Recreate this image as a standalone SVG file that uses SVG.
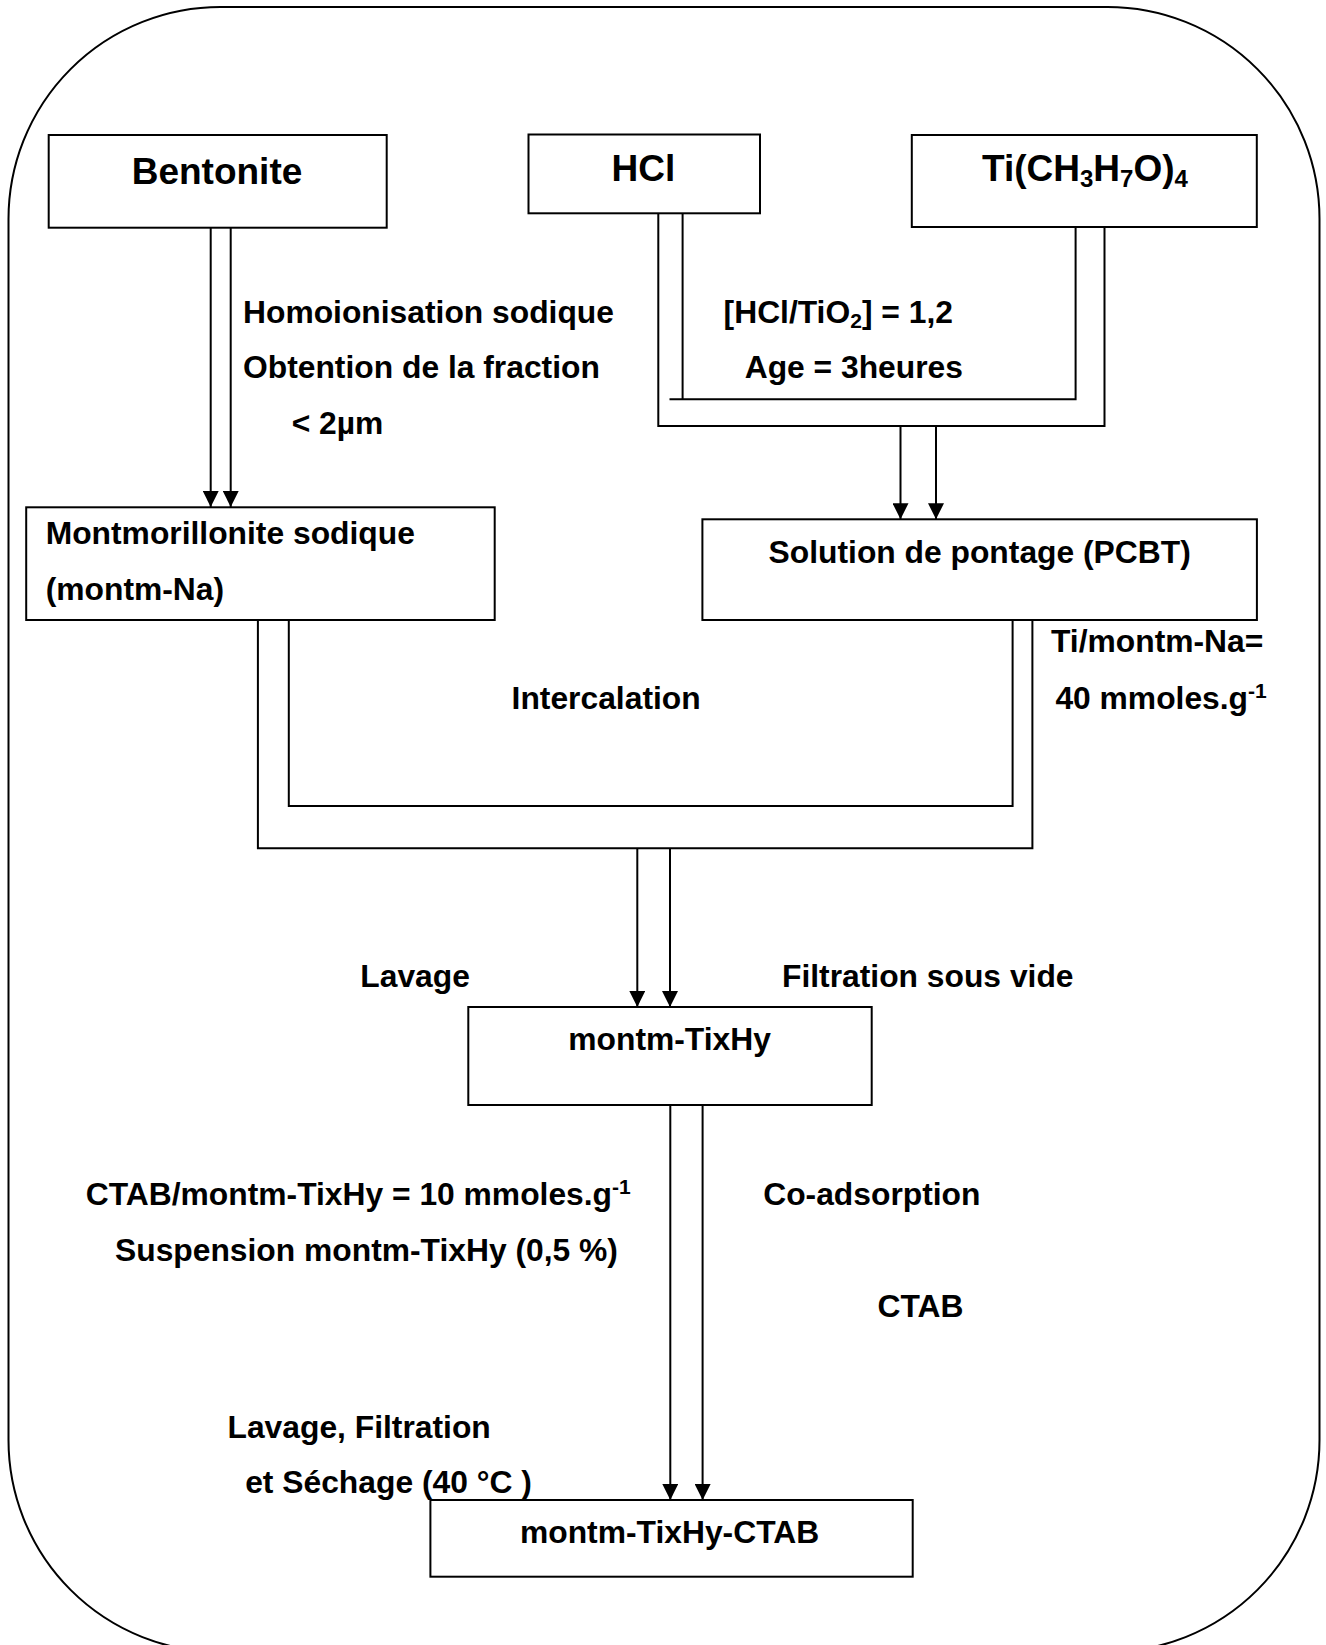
<svg xmlns="http://www.w3.org/2000/svg" width="1326" height="1645" viewBox="0 0 1326 1645">
<style>
  .box { fill: #fff; stroke: #000; stroke-width: 2; }
  .ln { fill: none; stroke: #000; stroke-width: 2; }
  .t { font-family: "Liberation Sans", Arial, sans-serif; font-weight: bold; font-size: 31.8px; fill: #000; }
  .big { font-size: 37px; }
  .sm { font-size: 21px; }
  .sub { font-size: 24px; }
</style>
<defs>
  <marker id="arr" viewBox="0 0 16 16" refX="16" refY="8" markerWidth="16" markerHeight="16" markerUnits="userSpaceOnUse" orient="auto">
    <path d="M0,0 L16,8 L0,16 z" fill="#000"/>
  </marker>
</defs>
<rect x="0" y="0" width="1326" height="1645" fill="#fff"/>
<rect id="frame" x="8.5" y="7" width="1311" height="1645" rx="212" ry="212" fill="none" stroke="#000" stroke-width="2"/>

<g id="connectors">
  <!-- Bentonite to Montmorillonite -->
  <line class="ln" x1="210.7" y1="227.7" x2="210.7" y2="507" marker-end="url(#arr)"/>
  <line class="ln" x1="230.7" y1="227.7" x2="230.7" y2="507" marker-end="url(#arr)"/>
  <!-- HCl + Ti to PCBT -->
  <polyline class="ln" points="682.6,213 682.6,399.3"/>
  <polyline class="ln" points="669.5,399.3 1075.6,399.3 1075.6,227"/>
  <polyline class="ln" points="658.3,213 658.3,426 1104.5,426 1104.5,227"/>
  <line class="ln" x1="900.5" y1="426" x2="900.5" y2="519.3" marker-end="url(#arr)"/>
  <line class="ln" x1="936" y1="426" x2="936" y2="519.3" marker-end="url(#arr)"/>
  <!-- Intercalation -->
  <polyline class="ln" points="288.8,620 288.8,806 1012.6,806 1012.6,620"/>
  <polyline class="ln" points="257.9,620 257.9,848.3 1032.4,848.3 1032.4,620"/>
  <line class="ln" x1="637.3" y1="848.3" x2="637.3" y2="1007" marker-end="url(#arr)"/>
  <line class="ln" x1="670" y1="848.3" x2="670" y2="1007" marker-end="url(#arr)"/>
  <!-- montm-TixHy to CTAB -->
  <line class="ln" x1="670.3" y1="1105" x2="670.3" y2="1500" marker-end="url(#arr)"/>
  <line class="ln" x1="702.6" y1="1079" x2="702.6" y2="1500" marker-end="url(#arr)"/>
</g>

<g id="bentonite">
  <rect class="box" x="48.7" y="135" width="338" height="92.7"/>
  <text class="t big" x="131.7" y="184.3">Bentonite</text>
</g>
<g id="hcl">
  <rect class="box" x="528.5" y="134.5" width="231.5" height="78.8"/>
  <text class="t big" x="611.6" y="181">HCl</text>
</g>
<g id="ti">
  <rect class="box" x="911.8" y="135" width="345" height="92"/>
  <text class="t big" x="982" y="181">Ti(CH<tspan class="sub" dy="6">3</tspan><tspan dy="-6">H</tspan><tspan class="sub" dy="6">7</tspan><tspan dy="-6">O)</tspan><tspan class="sub" dy="6">4</tspan></text>
</g>
<g id="montmorillonite">
  <rect class="box" x="26.2" y="507.3" width="468.5" height="112.7"/>
  <text class="t" x="45.7" y="544">Montmorillonite sodique</text>
  <text class="t" x="45.7" y="600">(montm-Na)</text>
</g>
<g id="pcbt">
  <rect class="box" x="702.4" y="519.3" width="554.5" height="100.7"/>
  <text class="t" x="768.6" y="563.3">Solution de pontage (PCBT)</text>
</g>
<g id="montm-tixhy">
  <rect class="box" x="468.3" y="1007" width="403.4" height="98"/>
  <text class="t" x="568.3" y="1050">montm-TixHy</text>
</g>
<g id="montm-tixhy-ctab">
  <rect class="box" x="430.4" y="1500" width="482.3" height="76.7"/>
  <text class="t" x="520" y="1543">montm-TixHy-CTAB</text>
</g>

<g id="labels">
  <text class="t" x="243" y="322.7">Homoionisation sodique</text>
  <text class="t" x="243" y="378">Obtention de la fraction</text>
  <text class="t" x="291.7" y="434">&lt; 2µm</text>
  <text class="t" x="723.6" y="323.3">[HCl/TiO<tspan class="sm" dy="5">2</tspan><tspan dy="-5">] = 1,2</tspan></text>
  <text class="t" x="744.7" y="378">Age = 3heures</text>
  <text class="t" x="1051" y="652.3">Ti/montm-Na=</text>
  <text class="t" x="1055.4" y="708.5">40 mmoles.g<tspan class="sm" dy="-11">-1</tspan></text>
  <text class="t" x="511.6" y="709">Intercalation</text>
  <text class="t" x="360.3" y="987">Lavage</text>
  <text class="t" x="782" y="987">Filtration sous vide</text>
  <text class="t" x="85.8" y="1205">CTAB/montm-TixHy = 10 mmoles.g<tspan class="sm" dy="-11">-1</tspan></text>
  <text class="t" x="115" y="1260.5">Suspension montm-TixHy (0,5 %)</text>
  <text class="t" x="763.2" y="1205">Co-adsorption</text>
  <text class="t" x="877.5" y="1317">CTAB</text>
  <text class="t" x="227.5" y="1438.3">Lavage, Filtration</text>
  <text class="t" x="245.2" y="1493">et Séchage (40 °C )</text>
</g>
</svg>
